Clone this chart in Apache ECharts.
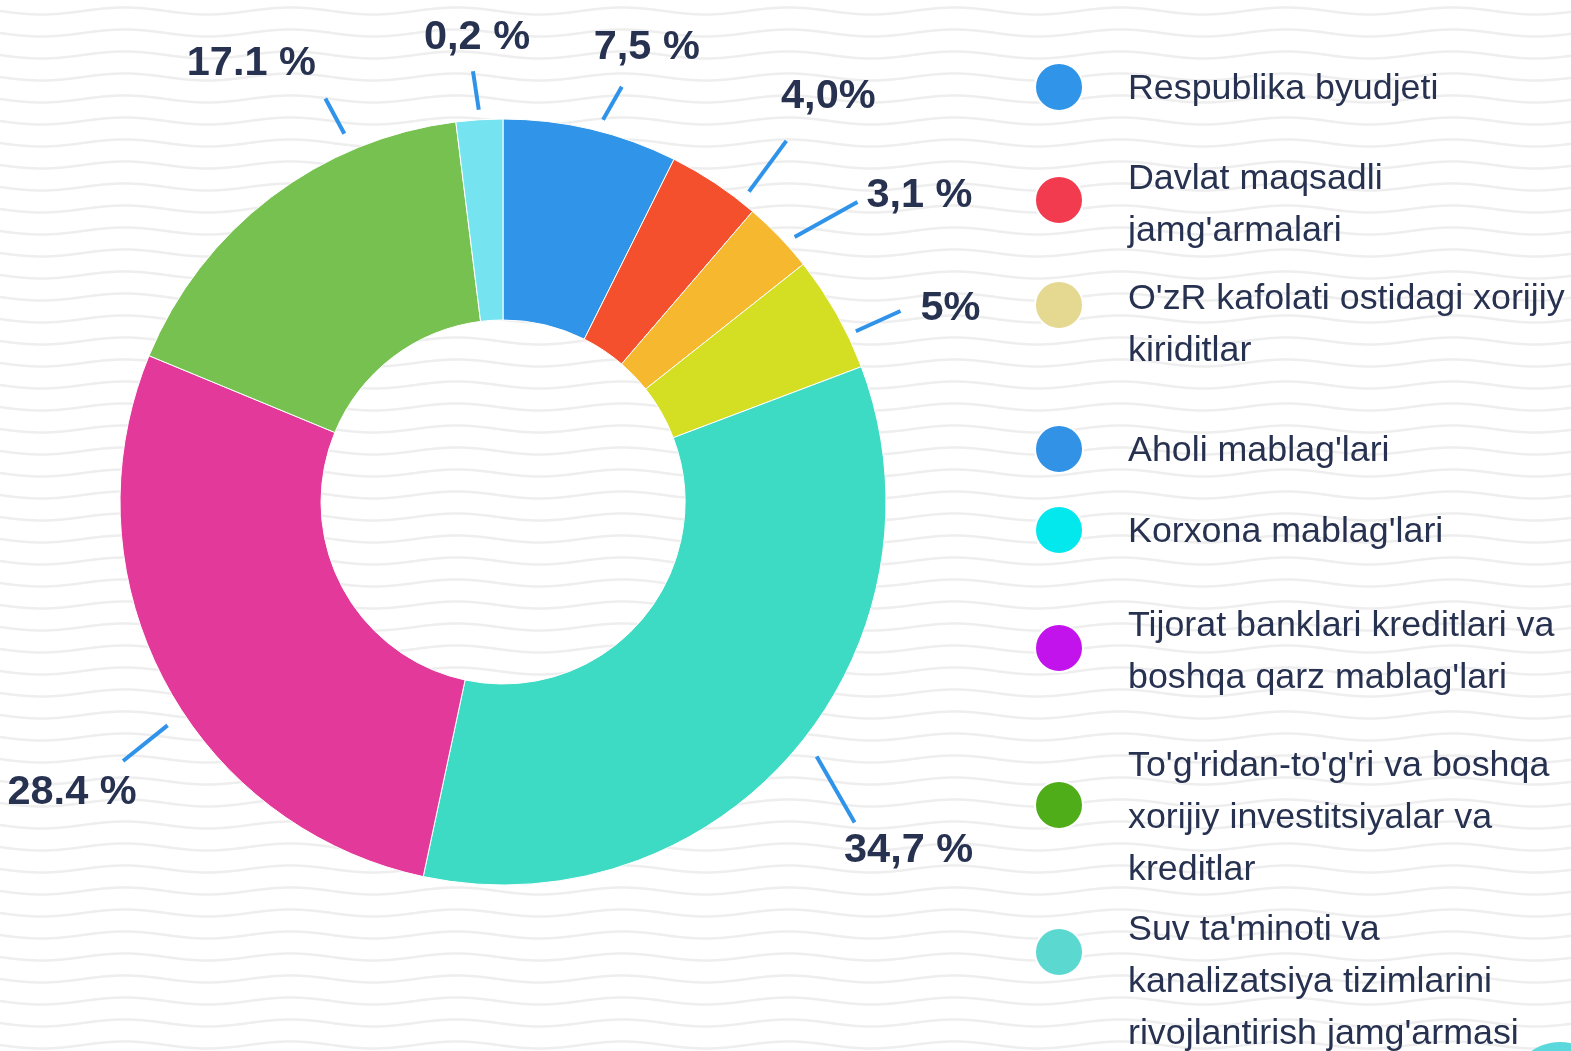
<!DOCTYPE html>
<html>
<head>
<meta charset="utf-8">
<script src="https://cdn.jsdelivr.net/npm/echarts@6/dist/echarts.min.js"></script>
<style>
    html, body { margin: 0; padding: 0; background: #fff; }
    #chart { width: 1571px; height: 1051px; }
</style>
</head>
<body>
<div id="chart"></div>
<script>
// slice data (clockwise from top)
var sliceNames = [
    "Respublika byudjeti",
    "Davlat maqsadli\njamg'armalari",
    "O'zR kafolati ostidagi xorijiy\nkiriditlar",
    "Aholi mablag'lari",
    "Korxona mablag'lari",
    "Tijorat banklari kreditlari va\nboshqa qarz mablag'lari",
    "To'g'ridan-to'g'ri va boshqa\nxorijiy investitsiyalar va\nkreditlar",
    "Suv ta'minoti va\nkanalizatsiya tizimlarini\nrivojlantirish jamg'armasi"
];
var sliceValues = [7.5, 4.0, 3.1, 5.0, 34.7, 28.4, 17.1, 2.0];
var sliceLabels = ['7,5 %', '4,0%', '3,1 %', '5%', '34,7 %', '28.4 %', '17.1 %', '0,2 %'];
var sliceColors = ['#3095e8', '#f5502d', '#f5b82e', '#d4de22', '#3ddbc3', '#e3399a', '#76c14f', '#76e3f0'];
var legendColors = ['#3095e8', '#f23b4f', '#e5d890', '#3192e6', '#02e8ed', '#c313ec', '#4fad1a', '#5bd8d0'];

// layout tweaks (pixels / degrees)
var legendIconY = [87, 200, 305, 449, 530, 648, 805, 952];
var legendTextShift = [2, 5, 20, 2, 2, 4, 13, 30];
// per label: anchor angle shift, line direction shift, gap from ring, line length, label offset from line end
var labelPlace = [
    { da: 1.4, dd: 15, gap: 12, len: 38, ox: 25, oy: -43 },
    { da: 4.8, dd: -2, gap: 13, len: 63, ox: 42, oy: -48 },
    { da: 1.6, dd: 13, gap: 11, len: 72, ox: 62, oy: -10 },
    { da: 3.7, dd: 1.5, gap: 9, len: 49, ox: 50, oy: -6 },
    { da: -1.6, dd: 21, gap: 21, len: 76, ox: 54, oy: 24 },
    { da: -5.9, dd: -5, gap: 20, len: 57, ox: -51, oy: 28 },
    { da: 14, dd: -5, gap: 18, len: 40, ox: -74, oy: -39 },
    { da: 0, dd: -5, gap: 10, len: 39, ox: 4, oy: -38 }
];
var pieCenter = [503, 502];
var pieRadius = [182, 383];

// faint wavy background
function wavePattern() {
    var w = 166, h = 22;
    var c = document.createElement('canvas');
    c.width = w; c.height = h;
    var ctx = c.getContext('2d');
    ctx.fillStyle = '#ffffff';
    ctx.fillRect(0, 0, w, h);
    ctx.strokeStyle = '#eeeeee';
    ctx.lineWidth = 2.5;
    ctx.beginPath();
    for (var x = 0; x <= w; x++) {
        var y = h / 2 + 3.5 * Math.sin(x / w * Math.PI * 2);
        if (x === 0) ctx.moveTo(x, y); else ctx.lineTo(x, y);
    }
    ctx.stroke();
    return c;
}

var chart = echarts.init(document.getElementById('chart'));

var legends = sliceNames.map(function (name, i) {
    var lines = name.split('\n').length;
    var sp = legendTextShift[i] * 2;
    return {
        left: 1034,
        top: legendIconY[i] - (lines * 52 + sp) / 2,
        padding: 0,
        itemWidth: 52,
        itemHeight: 48,
        icon: 'circle',
        selectedMode: false,
        formatter: function (n) {
            return '{sp| }\n' + n;
        },
        textStyle: {
            fontFamily: '"Liberation Sans", Arial, sans-serif',
            fontSize: 35.8,
            lineHeight: 52,
            color: '#273150',
            padding: [0, 0, 0, 38],
            rich: {
                sp: { fontSize: 1, lineHeight: sp, height: sp }
            }
        },
        data: [{ name: name, itemStyle: { color: legendColors[i] } }]
    };
});

var option = {
    backgroundColor: { image: wavePattern(), repeat: 'repeat' },
    animation: false,
    legend: legends,
    graphic: [{
        type: 'circle',
        shape: { cx: 1560, cy: 1092, r: 50 },
        style: { fill: '#5ad8dc' }
    }],
    series: [{
        type: 'pie',
        center: pieCenter,
        radius: pieRadius,
        startAngle: 90,
        clockwise: true,
        avoidLabelOverlap: false,
        itemStyle: { borderColor: '#ffffff', borderWidth: 1 },
        label: {
            show: true,
            formatter: function (p) { return sliceLabels[p.dataIndex]; },
            fontFamily: '"Liberation Sans", Arial, sans-serif',
            fontWeight: 'bold',
            fontSize: 41.5,
            color: '#273150'
        },
        labelLine: {
            show: true,
            length: 40,
            length2: 0,
            lineStyle: { color: '#2f93ea', width: 4 }
        },
        labelLayout: function (params) {
            var pts = params.labelLinePoints;
            if (!pts) return {};
            var lp = labelPlace[params.dataIndex];
            var rad = Math.PI / 180;
            // mid angle of the slice, clockwise from 12 o'clock
            var mid = Math.atan2(pts[0][0] - pieCenter[0], pieCenter[1] - pts[0][1]) / rad;
            var a = (mid + lp.da) * rad;
            var d = (mid + lp.da + lp.dd) * rad;
            var r0 = pieRadius[1] + lp.gap;
            var s = [pieCenter[0] + r0 * Math.sin(a), pieCenter[1] - r0 * Math.cos(a)];
            var e = [s[0] + lp.len * Math.sin(d), s[1] - lp.len * Math.cos(d)];
            return {
                x: e[0] + lp.ox,
                y: e[1] + lp.oy + 4,
                align: 'center',
                verticalAlign: 'middle',
                labelLinePoints: [s, e, e]
            };
        },
        emphasis: { disabled: true },
        data: sliceValues.map(function (v, i) {
            return { name: sliceNames[i], value: v, itemStyle: { color: sliceColors[i] } };
        })
    }]
};
chart.setOption(option);
</script>
</body>
</html>
